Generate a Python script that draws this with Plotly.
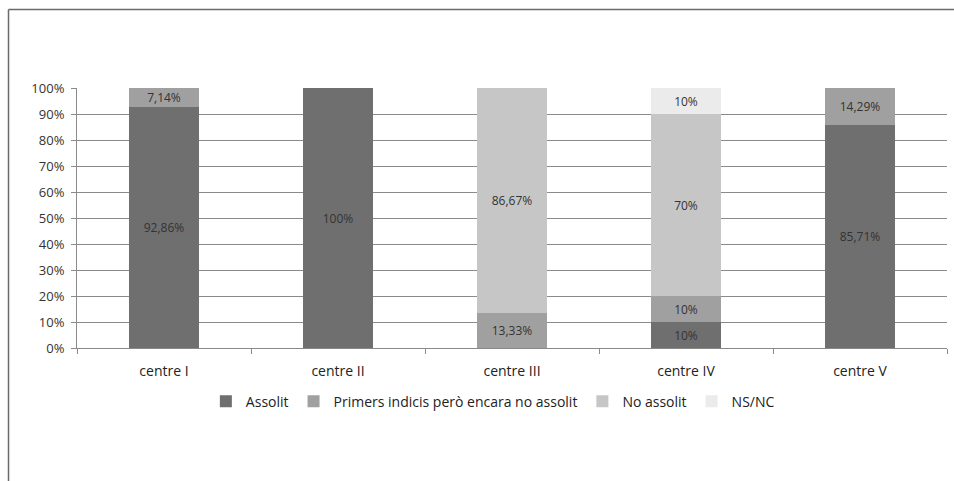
import plotly.graph_objects as go

categories = ["centre I", "centre II", "centre III", "centre IV", "centre V"]
series_names = ["Assolit", "Primers indicis però encara no assolit", "No assolit", "NS/NC"]
assolit = [92.86, 100, 0, 10, 85.71]
primers = [7.14, 0, 13.33, 10, 14.29]
no_assolit = [0, 0, 86.67, 70, 0]
nsnc = [0, 0, 0, 10, 0]
colors = ["#6f6f6f", "#a0a0a0", "#c6c6c6", "#ebebeb"]
tick_vals = list(range(0, 101, 10))
tick_text = [f"{v}%" for v in tick_vals]

W, H = 954, 481
ML, MR, MT, MB = 77, 7, 88, 133


def lab(v):
    if v == 0:
        return ""
    if abs(v - round(v)) < 1e-9:
        return f"{int(round(v))}%"
    return f"{v:.2f}".replace(".", ",") + "%"


fig = go.Figure()
for name, vals, col in zip(series_names, [assolit, primers, no_assolit, nsnc], colors):
    fig.add_trace(go.Bar(
        name=name, x=categories, y=vals, marker=dict(color=col, line=dict(width=0)),
        text=[lab(v) for v in vals], textposition="inside", insidetextanchor="middle",
        textangle=0, constraintext="none",
        textfont=dict(family="Open Sans, sans-serif", size=12, color="#333333"),
        hoverinfo="skip",
    ))

pw = W - ML - MR
ph = H - MT - MB
fx = (8.5 - ML) / pw
fy = 1 + (MT - 9.5) / ph

fig.update_layout(
    barmode="stack", bargap=0.6,
    width=W, height=H,
    margin=dict(l=ML, r=MR, t=MT, b=MB),
    plot_bgcolor="white", paper_bgcolor="white",
    uniformtext=dict(mode=False),
    font=dict(family="Open Sans, sans-serif", color="#333333"),
    legend=dict(orientation="h", x=0.478, xanchor="center", y=-0.145, yanchor="top",
                font=dict(size=14, color="#222222"), itemwidth=30, traceorder="normal",
                tracegroupgap=0),
    xaxis=dict(showline=True, linecolor="#8a8a8a", linewidth=1, ticks="outside",
               tickson="boundaries", ticklen=5, tickcolor="#8a8a8a",
               ticklabelstandoff=10,
               tickfont=dict(size=14, color="#222222"), showgrid=False),
    yaxis=dict(range=[0, 100], tickvals=tick_vals, ticktext=tick_text,
               showline=True, linecolor="#8a8a8a", linewidth=1,
               ticks="outside", ticklen=5, tickcolor="#8a8a8a",
               gridcolor="#8a8a8a", gridwidth=1, zeroline=False,
               ticklabelstandoff=4,
               tickfont=dict(size=13, color="#333333")),
    shapes=[dict(type="line", xref="paper", yref="paper", x0=fx, x1=fx, y0=fy, y1=-1,
                 line=dict(color="#6a6a6a", width=1.5)),
            dict(type="line", xref="paper", yref="paper", x0=fx, x1=1.2, y0=fy, y1=fy,
                 line=dict(color="#6a6a6a", width=1.5))],
)

fig.write_html("out.html")
